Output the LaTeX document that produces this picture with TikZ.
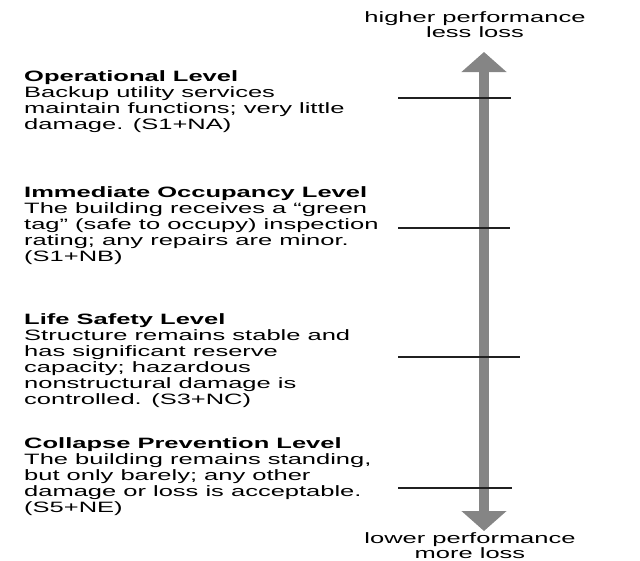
\documentclass[tikz,border=0pt]{standalone}
\usepackage{fontspec}
\setmainfont{Liberation Sans}[FakeStretch=1.7]
\usetikzlibrary{arrows.meta}
\definecolor{perf-gray}{HTML}{858585}
\definecolor{tick-dark}{HTML}{202020}

\begin{document}
\begin{tikzpicture}[x=1pt,y=-1pt,
    lvl/.style={anchor=north west, inner sep=0pt, align=left, font=\fontsize{15}{16}\selectfont},
    perf/.style={anchor=north, inner sep=0pt, align=center, font=\fontsize{15}{15}\selectfont}]
    \useasboundingbox (0,0) rectangle (640,560);
    \coordinate (top) at (484,52);
    \coordinate (bot) at (484,531);
    \draw[perf-gray, line width=10pt, {Triangle[width=44pt,length=20pt]}-{Triangle[width=44pt,length=20pt]}] (bot) -- (top);
    \draw[tick-dark, line width=1.2pt] (398,98) -- (511,98);
    \draw[tick-dark, line width=1.2pt] (398,228) -- (510,228);
    \draw[tick-dark, line width=1.2pt] (398,357) -- (520,357);
    \draw[tick-dark, line width=1.2pt] (398,488) -- (512,488);
    \node[perf] (high) at (475,11) {higher performance\\less loss};
    \node[perf] (low) at (470,532) {lower performance\\more loss};
    \node[lvl] (oper) at (24,70) {\textbf{Operational Level}\\Backup utility services\\maintain functions; very little\\damage. (S1+NA)};
    \node[lvl] (immed) at (24,186) {\textbf{Immediate Occupancy Level}\\The building receives a ``green\\tag'' (safe to occupy) inspection\\rating; any repairs are minor.\\(S1+NB)};
    \node[lvl] (life) at (24,313) {\textbf{Life Safety Level}\\Structure remains stable and\\has significant reserve\\capacity; hazardous\\nonstructural damage is\\controlled. (S3+NC)};
    \node[lvl] (collapse) at (24,437) {\textbf{Collapse Prevention Level}\\The building remains standing,\\but only barely; any other\\damage or loss is acceptable.\\(S5+NE)};
\end{tikzpicture}
\end{document}
